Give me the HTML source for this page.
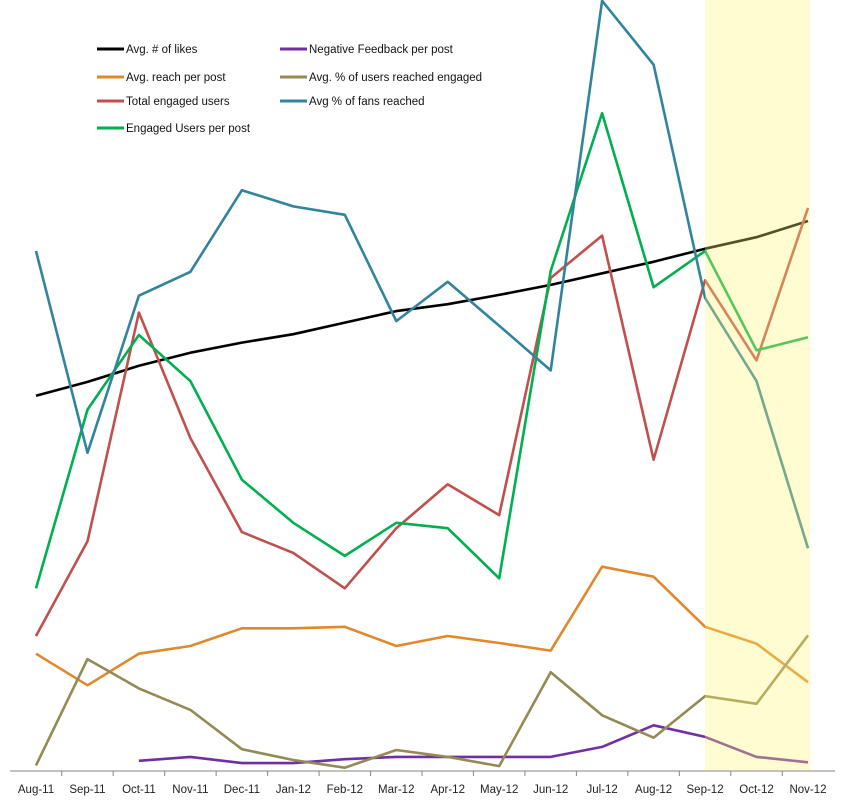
<!DOCTYPE html>
<html><head><meta charset="utf-8"><style>
html,body{margin:0;padding:0;background:#fff;}
svg{display:block;font-family:"Liberation Sans",sans-serif;}
</style></head><body>
<svg id="chart" width="861" height="800"></svg>
<script>
const categories=["Aug-11","Sep-11","Oct-11","Nov-11","Dec-11","Jan-12","Feb-12","Mar-12","Apr-12","May-12","Jun-12","Jul-12","Aug-12","Sep-12","Oct-12","Nov-12"];
// values on a 0-100 relative scale (100 = top of plot)
const avgLikes=[48.6,50.4,52.5,54.2,55.5,56.6,58.1,59.6,60.5,61.7,63.0,64.5,66.0,67.7,69.2,71.3];
const avgReach=[15.1,11.0,15.1,16.1,18.4,18.4,18.6,16.1,17.4,16.5,15.5,26.4,25.1,18.6,16.4,11.4];
const pctEngaged=[0.6,14.4,10.6,7.8,2.7,1.3,0.3,2.6,1.7,0.5,12.7,7.1,4.2,9.6,8.6,17.5];
const totalEngaged=[17.4,29.7,59.4,43.1,30.9,28.2,23.6,31.4,37.1,33.1,63.9,69.4,40.3,63.6,53.2,73.0];
const fansReached=[67.4,41.2,61.6,64.7,75.3,73.2,72.1,58.3,63.4,57.7,51.9,99.9,91.6,61.3,50.5,28.8];
const engagedPerPost=[23.6,46.8,56.5,50.5,37.7,32.1,27.8,32.1,31.4,24.9,64.8,85.3,62.7,67.4,54.5,56.2];
const negFeedback=[null,null,1.2,1.7,0.9,0.9,1.4,1.7,1.7,1.7,1.7,3.0,5.8,4.3,1.7,1.0];
const series=[
 {name:"Avg. # of likes",vals:avgLikes,color:"#000000",lx:97,ly:49,id:"avg-likes"},
 {name:"Avg. reach per post",vals:avgReach,color:"#e0882b",lx:97,ly:77,id:"avg-reach"},
 {name:"Total engaged users",vals:totalEngaged,color:"#c0504d",lx:97,ly:101,id:"total-engaged"},
 {name:"Engaged Users per post",vals:engagedPerPost,color:"#00b050",lx:97,ly:128,id:"engaged-per-post"},
 {name:"Negative Feedback per post",vals:negFeedback,color:"#7030a0",lx:280,ly:49,id:"negative-feedback"},
 {name:"Avg. % of users reached engaged",vals:pctEngaged,color:"#948a54",lx:280,ly:77,id:"pct-engaged"},
 {name:"Avg % of fans reached",vals:fansReached,color:"#31849b",lx:280,ly:101,id:"fans-reached"}
];
const NS="http://www.w3.org/2000/svg";
const svg=document.getElementById("chart");
const x0=36,dx=(808-36)/15,yBase=770;
const xs=i=>x0+i*dx;
const ys=v=>yBase-v/100*yBase;
function el(t,a){const e=document.createElementNS(NS,t);for(const k in a)e.setAttribute(k,a[k]);svg.appendChild(e);return e;}
// axis
const ax=el("line",{x1:10,y1:771,x2:835,y2:771,stroke:"#868686","stroke-width":1});


for(let i=0;i<categories.length;i++){
 if(i<categories.length-1){
  const t=el("line",{x1:xs(i)+dx/2,y1:771,x2:xs(i)+dx/2,y2:776,stroke:"#868686"});
  
  
 }
 const l=el("text",{x:xs(i),y:793,"text-anchor":"middle","font-size":"11.5",fill:"#222"});
 l.textContent=categories[i];
 
 
}
// series
series.forEach(s=>{
 let d="",pen=false;
 s.vals.forEach((v,i)=>{if(v==null){pen=false;return;}d+=(pen?"L":"M")+xs(i).toFixed(1)+","+ys(v).toFixed(1);pen=true;});
 const p=el("path",{d:d,fill:"none",stroke:s.color,"stroke-width":2.6,"stroke-linejoin":"round"});
 
 
 const ll=el("line",{x1:s.lx,y1:s.ly,x2:s.lx+27,y2:s.ly,stroke:s.color,"stroke-width":3});
 
 
 const lt=el("text",{x:s.lx+29,y:s.ly+4,"font-size":"11.5",fill:"#111"});
 lt.textContent=s.name;
 
 
});
// forecast highlight band
const band=el("rect",{x:705,y:0,width:105,height:770,fill:"#fff774","fill-opacity":0.33});


</script>
</body></html>
